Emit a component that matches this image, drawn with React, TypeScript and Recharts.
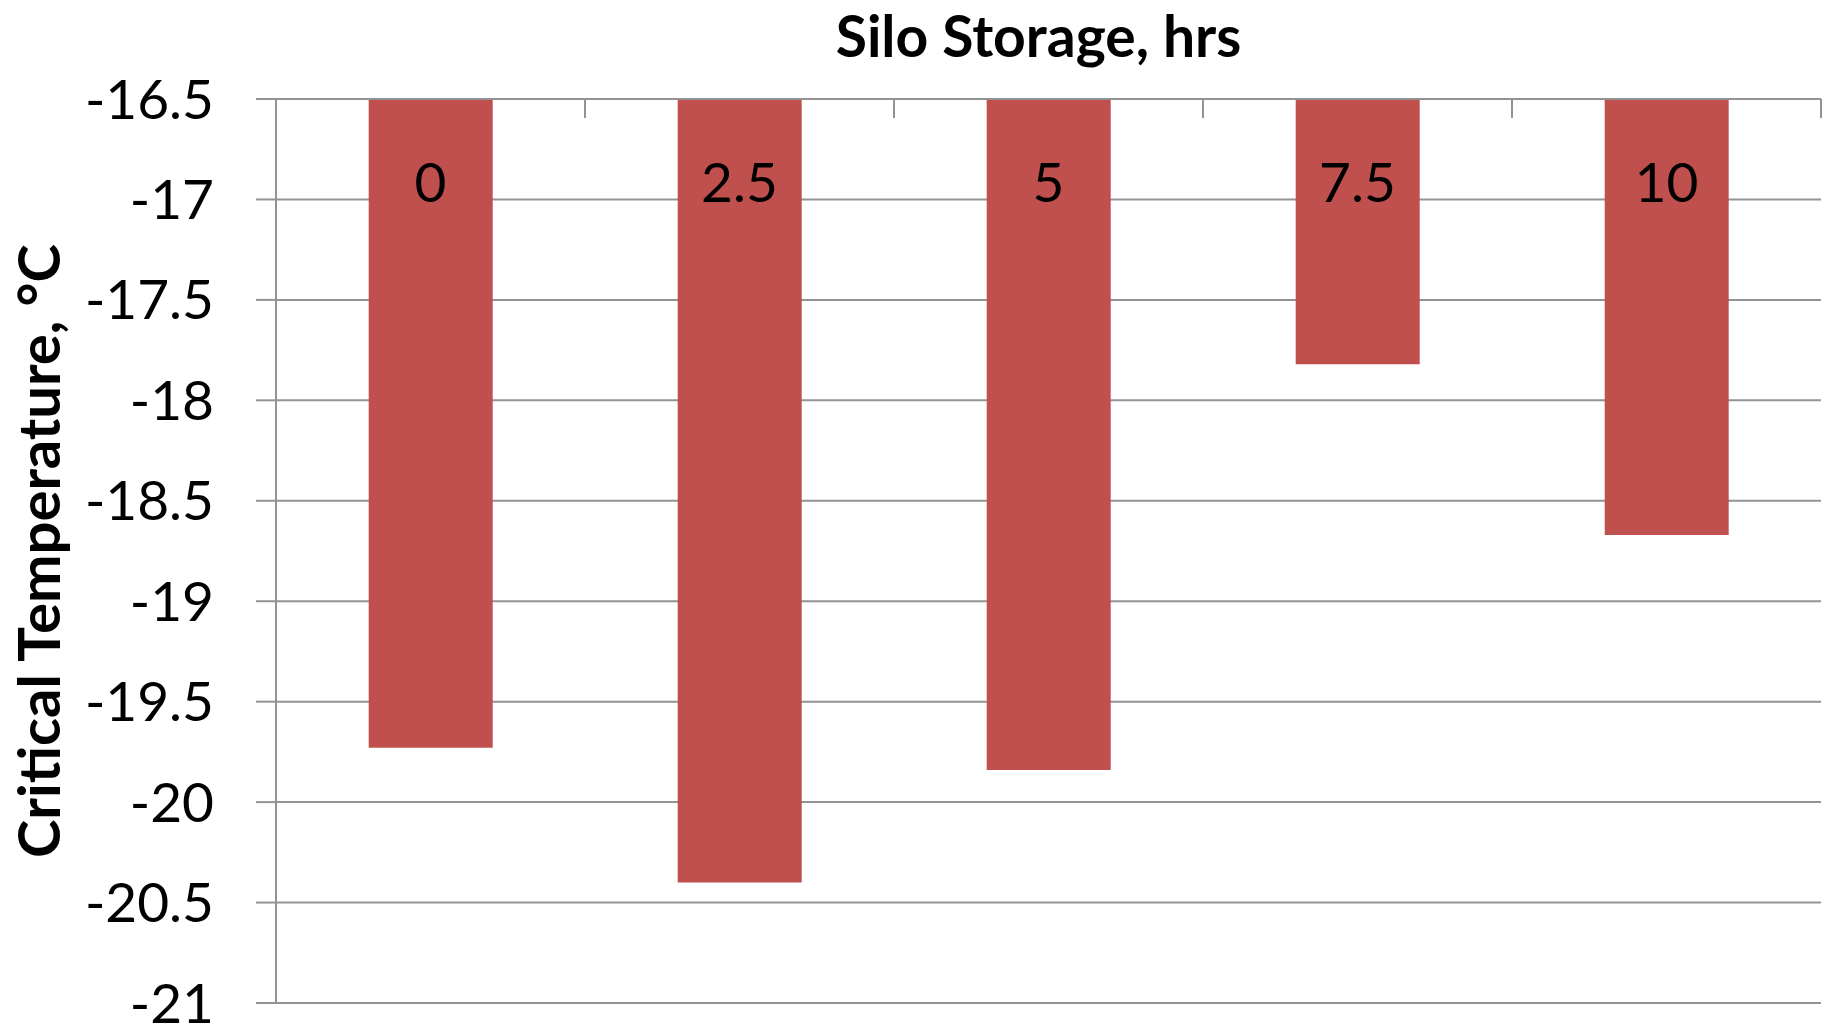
import { BarChart, Bar, XAxis, YAxis, CartesianGrid } from "recharts";

const hours = ["0", "2.5", "5", "7.5", "10"];
const criticalTemp = [-19.73, -20.4, -19.84, -17.82, -18.67];
const yTicks = [-21, -20.5, -20, -19.5, -19, -18.5, -18, -17.5, -17, -16.5];

const data = hours.map((h, i) => ({ hours: h, temp: criticalTemp[i] }));

const W = 1828;
const H = 1026;
const MARGIN = { top: 0, right: 7, bottom: 23, left: 0 };
const Y_AXIS_W = 276;
const X_AXIS_H = 99;
const BAND = (W - MARGIN.left - MARGIN.right - Y_AXIS_W) / hours.length;

const BAR_RED = "#C0504D";
const GRID = "#939393";
const FONT = "Lato, 'Open Sans', sans-serif";

// category labels sit inside the bars, tick marks fall between categories
function CategoryTick(props: any) {
  const { x, payload, index } = props;
  const top = MARGIN.top + X_AXIS_H;
  const half = BAND / 2;
  return (
    <g>
      <line x1={x - half} x2={x - half} y1={top} y2={top + 19} stroke={GRID} strokeWidth={2} />
      {index === hours.length - 1 && (
        <line x1={x + half} x2={x + half} y1={top} y2={top + 19} stroke={GRID} strokeWidth={2} />
      )}
      <text
        x={x}
        y={top + 82}
        textAnchor="middle"
        dominantBaseline="central"
        fontSize={55}
        fontFamily={FONT}
        fill="#000"
      >
        {payload.value}
      </text>
    </g>
  );
}

export default function App() {
  return (
    <div style={{ position: "absolute", left: 0, top: 0, background: "#fff" }}>
      <BarChart width={W} height={H} data={data} margin={MARGIN} barCategoryGap="30%">
        <CartesianGrid vertical={false} stroke={GRID} strokeWidth={2} />
        <XAxis
          dataKey="hours"
          orientation="top"
          height={X_AXIS_H}
          interval={0}
          axisLine={{ stroke: GRID, strokeWidth: 2 }}
          tickLine={false}
          tick={<CategoryTick />}
          label={{
            value: "Silo Storage, hrs",
            position: "center",
            dx: -10,
            dy: -13,
            fontSize: 57,
            fontWeight: 700,
            fontFamily: FONT,
            fill: "#000",
          }}
        />
        <YAxis
          type="number"
          domain={[-21, -16.5]}
          ticks={yTicks}
          interval={0}
          width={Y_AXIS_W}
          allowDataOverflow
          axisLine={{ stroke: GRID, strokeWidth: 2 }}
          tickLine={{ stroke: GRID, strokeWidth: 2 }}
          tickSize={20}
          tickMargin={42}
          tick={{ fontSize: 55, fontFamily: FONT, fill: "#000" }}
          label={{
            value: "Critical Temperature, °C",
            angle: -90,
            position: "center",
            dx: -99,
            fontSize: 58,
            fontWeight: 700,
            fontFamily: FONT,
            fill: "#000",
          }}
        />
        <Bar dataKey="temp" fill={BAR_RED} isAnimationActive={false} />
      </BarChart>
    </div>
  );
}
